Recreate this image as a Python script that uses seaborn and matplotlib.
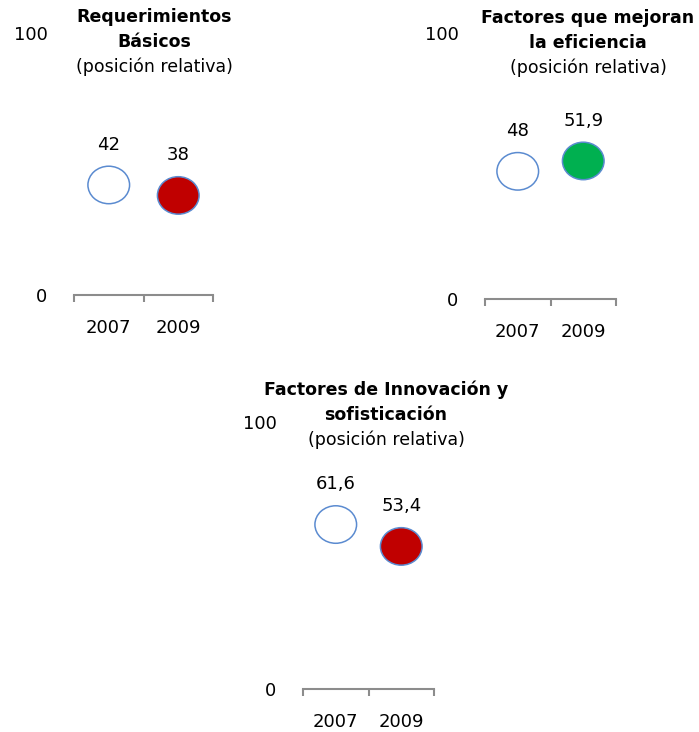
import numpy as np
import pandas as pd
import seaborn as sns
import matplotlib.pyplot as plt
from matplotlib.path import Path
from matplotlib.transforms import Affine2D

titulos = ['Requerimientos\nBásicos', 'Factores que mejoran\nla eficiencia',
           'Factores de Innovación y\nsofisticación']
subtitulo = '(posición relativa)'
anios = ['2007', '2009']
valores_2007 = [42, 48, 61.6]
valores_2009 = [38, 51.9, 53.4]
colores_2009 = ['#C00000', '#00B050', '#C00000']

sns.set_style('white')
plt.rcParams['font.family'] = ['DejaVu Sans']
plt.rcParams['text.color'] = 'black'
plt.rcParams['xtick.labelcolor'] = 'black'
plt.rcParams['ytick.labelcolor'] = 'black'

W, H = 699, 732
fig = plt.figure(figsize=(W / 100, H / 100), dpi=100)


def fx(x):
    return x / W


def fy(y):
    return 1 - y / H


# axes boxes in pixels: left, top of plot area, right, baseline
cajas = [(74, 33, 213, 295), (485, 33, 616, 299), (303, 422, 434, 689)]
# title anchors in pixels: center x, first line y
pos_titulos = [(154, 17), (588, 18), (386, 390)]

elipse = Path.unit_circle().transformed(Affine2D().scale(1, 0.9))

for i, (l, t, r, b) in enumerate(cajas):
    ax = fig.add_axes([fx(l), fy(b), (r - l) / W, (b - t) / H])
    df = pd.DataFrame({'anio': anios, 'valor': [valores_2007[i], valores_2009[i]]})
    sns.scatterplot(data=df, x='anio', y='valor', hue='anio',
                    palette={'2007': 'white', '2009': colores_2009[i]},
                    marker=elipse, s=900, edgecolor='#5B8BD0', linewidth=1.1,
                    legend=False, ax=ax, clip_on=False, zorder=3)
    for j, v in enumerate(df['valor']):
        ax.annotate(f'{v:g}'.replace('.', ','), (j, v), xytext=(0, 29),
                    textcoords='offset points', ha='center', va='center',
                    fontsize=13, color='black')

    ax.set_xlim(-0.5, 1.5)
    ax.set_ylim(0, 100)
    ax.set_xticks([0, 1], anios)
    ax.set_xticks([-0.5, 0.5, 1.5], minor=True)
    ax.tick_params(axis='x', which='major', length=0, pad=17, labelsize=13)
    ax.tick_params(axis='x', which='minor', length=5, width=1.5,
                   color='#8C8C8C', direction='out', bottom=True)
    ax.set_yticks([0, 100], ['0', '100'])
    ax.tick_params(axis='y', length=0, pad=19, labelsize=13)
    ax.set_xlabel('')
    ax.set_ylabel('')
    for s in ['top', 'right', 'left']:
        ax.spines[s].set_visible(False)
    ax.spines['bottom'].set_color('#8C8C8C')
    ax.spines['bottom'].set_linewidth(1.5)

    cx, cy = pos_titulos[i]
    lineas = titulos[i].split('\n')
    for k, linea in enumerate(lineas):
        fig.text(fx(cx), fy(cy + 25 * k), linea, ha='center', va='center',
                 fontsize=12.5, fontweight='bold')
    fig.text(fx(cx), fy(cy + 25 * len(lineas)), subtitulo, ha='center',
             va='center', fontsize=12.5)

fig.savefig('out.png', dpi=100)
